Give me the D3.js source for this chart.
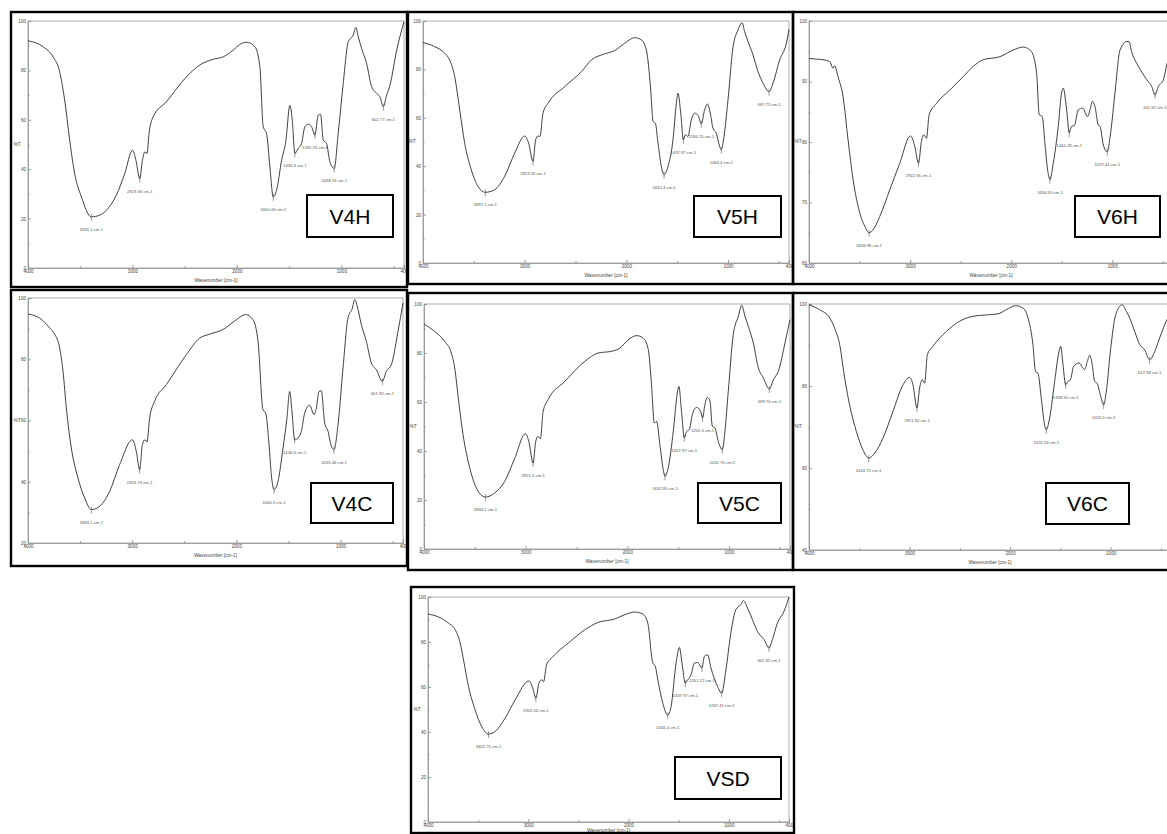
<!DOCTYPE html>
<html>
<head>
<meta charset="utf-8">
<script src="https://cdn.jsdelivr.net/npm/d3@7"></script>
<style>
  html, body { margin: 0; padding: 0; background: #fff; }
  svg { display: block; font-family: "Liberation Sans", Arial, sans-serif; }
</style>
</head>
<body>
<svg id="chart" width="1167" height="834"></svg>
<script>
// ---------------- DATA (wavenumber cm-1, %T) ----------------
const spectrumV4H = [[4000,92.0],[3856,89.6],[3760,85.5],[3697,79.5],[3649,68],[3601,51.8],[3553,38.2],[3489,28.8],[3393,20.7],[3313,21.4],[3249,23.4],[3154,29.5],[3074,38.2],[3000,47.7],[2968,43.9],[2930,36.2],[2904,43.6],[2882,47],[2860,46.4],[2841,54.5],[2802,61.2],[2675,67.3],[2483,77.4],[2355,82.2],[2227,84.5],[2131,85.5],[2036,88.2],[1972,90.5],[1908,91.4],[1828,89.6],[1780,81.5],[1748,57.2],[1732,55.8],[1716,54.5],[1684,40.9],[1652,28.8],[1620,31.5],[1572,43.6],[1530,51.8],[1493,65.9],[1470,59.9],[1445,46.4],[1413,48.4],[1381,50.4],[1349,57.2],[1317,58.2],[1285,57.2],[1253,53.8],[1221,61.9],[1199,62.2],[1173,51.8],[1141,50.4],[1110,43.0],[1068,40.3],[1030,54.5],[982,74.7],[934,91.6],[886,94.3],[860,97.4],[838,93.6],[806,88.9],[758,82.8],[710,73.4],[662,70.7],[630,69.3],[598,65.3],[566,70],[534,74.1],[470,88.2],[400,99.7]];
const peaksV4H = [[3393,20.7,"3391.1 cm-1"],[2930,36.2,"2923.56 cm-1"],[1652,28.8,"1650.66 cm-1"],[1445,46.4,"1436.6 cm-1"],[1253,53.8,"1255.26 cm-1"],[1068,40.3,"1058.16 cm-1"],[598,65.3,"602.77 cm-1"]];

const spectrumV5H = [[4000,91.1],[3885,89.4],[3787,86.7],[3738,83.9],[3688,77.0],[3639,63.3],[3590,49.5],[3525,38.5],[3459,31.6],[3387,29.2],[3295,30.3],[3197,35.8],[3098,45.4],[3000,52.5],[2961,49.5],[2918,42.0],[2892,50.9],[2869,52.5],[2849,52.3],[2820,61.9],[2770,66.0],[2606,72.9],[2442,79.1],[2344,83.9],[2213,86.4],[2115,87.8],[2016,90.8],[1918,93.1],[1852,92.2],[1803,88.0],[1760,71.5],[1737,58.5],[1715,57.8],[1688,49.5],[1656,39.9],[1629,36.5],[1590,39.9],[1541,50.9],[1508,66.0],[1492,70.2],[1465,61.9],[1439,50.9],[1420,53.0],[1394,52.3],[1361,59.1],[1328,61.9],[1295,61.2],[1263,57.5],[1230,63.3],[1203,65.7],[1171,61.2],[1148,55.7],[1115,53.6],[1082,48.1],[1066,46.8],[1039,52.3],[1000,67.4],[950,89.4],[901,96.3],[862,99.3],[836,95.6],[803,91.5],[754,86.0],[705,79.1],[655,74.3],[596,70.8],[557,74.3],[492,83.9],[426,90.8],[400,96.6]];
const peaksV5H = [[3387,29.2,"3391.1 cm-1"],[2918,42.0,"2923.56 cm-1"],[1629,36.5,"1632.4 cm-1"],[1439,50.9,"1437.97 cm-1"],[1263,57.5,"1260.25 cm-1"],[1066,46.8,"1065.4 cm-1"],[596,70.8,"597.73 cm-1"]];

const spectrumV6H = [[4000,93.8],[3927,93.7],[3861,93.6],[3795,93.3],[3762,92.2],[3746,92.6],[3713,90.8],[3663,87.5],[3614,80.4],[3564,73.8],[3498,68.3],[3449,66.1],[3406,65.0],[3366,65.5],[3300,67.7],[3201,72.1],[3102,76.5],[2997,81.0],[2954,79.3],[2917,76.5],[2888,80.1],[2865,81.2],[2838,80.6],[2812,84.5],[2739,86.4],[2607,88.6],[2475,90.8],[2376,92.5],[2277,93.6],[2112,94.1],[1980,95.2],[1881,95.7],[1799,94.9],[1749,91.4],[1723,84.5],[1693,84.2],[1667,79.8],[1640,75.4],[1617,73.8],[1584,76.5],[1535,82.6],[1502,88.1],[1485,88.9],[1452,85.3],[1426,81.5],[1403,82.6],[1376,82.7],[1337,85.3],[1294,85.6],[1244,84.2],[1221,85.3],[1198,86.7],[1172,85.9],[1139,82.8],[1122,82.6],[1089,79.5],[1050,78.4],[1017,81.5],[974,88.1],[924,95.2],[858,96.6],[835,96.6],[809,94.9],[759,93.0],[710,91.6],[660,90.3],[611,89.2],[578,87.8],[545,89.2],[495,90.3],[462,92.7],[430,94.5]];
const peaksV6H = [[3406,65.0,"3409.96 cm-1"],[2917,76.5,"2922.56 cm-1"],[1617,73.8,"1630.53 cm-1"],[1426,81.5,"1440.28 cm-1"],[1050,78.4,"1037.41 cm-1"],[578,87.8,"611.92 cm-1"]];

const spectrumV4C = [[4000,94.8],[3856,92.6],[3792,90.2],[3744,88.2],[3696,83.7],[3664,76.1],[3632,64.1],[3584,51.0],[3520,41.2],[3456,34.7],[3392,30.9],[3312,32.0],[3216,36.9],[3120,45.6],[2998,53.7],[2960,49.9],[2928,43.9],[2902,52.1],[2877,53.7],[2858,53.0],[2832,60.8],[2784,66.3],[2672,71.7],[2480,81.5],[2352,86.9],[2256,88.2],[2128,89.7],[2000,92.9],[1910,94.6],[1840,92.9],[1792,85.9],[1744,63.5],[1718,62.4],[1686,52.1],[1664,42.3],[1638,37.4],[1600,40.1],[1552,51.0],[1514,60.8],[1488,69.5],[1466,63.0],[1440,53.7],[1408,54.3],[1376,56.5],[1344,62.4],[1296,65.0],[1254,61.9],[1232,64.1],[1206,69.5],[1184,69.7],[1152,59.2],[1120,56.5],[1088,51.6],[1062,50.5],[1024,58.6],[976,77.1],[928,93.5],[886,96.7],[864,99.5],[832,96.2],[800,91.3],[752,85.9],[704,78.8],[656,76.6],[598,72.8],[560,76.1],[512,78.2],[448,89.1],[400,98.4]];
const peaksV4C = [[3392,30.9,"3394.1 cm-1"],[2928,43.9,"2923.76 cm-1"],[1638,37.4,"1630.3 cm-1"],[1440,53.7,"1436.6 cm-1"],[1062,50.5,"1055.46 cm-1"],[598,72.8,"601.92 cm-1"]];

const spectrumV5C = [[4000,91.8],[3895,88.8],[3797,84.8],[3731,80.0],[3698,73.9],[3659,60.3],[3616,46.7],[3550,33.1],[3485,24.9],[3396,21.2],[3304,22.9],[3206,27.6],[3107,37.1],[3002,47.1],[2969,43.9],[2927,35.1],[2901,43.9],[2878,46.0],[2855,45.0],[2828,56.2],[2779,61.0],[2615,68.4],[2418,76.6],[2287,80.0],[2155,80.7],[2073,82.0],[1991,85.4],[1909,87.1],[1844,86.1],[1794,81.4],[1762,67.1],[1735,51.4],[1712,52.1],[1680,42.6],[1647,32.4],[1630,29.7],[1598,33.1],[1548,48.0],[1506,64.4],[1493,66.4],[1467,56.2],[1440,45.3],[1417,48.0],[1391,48.7],[1361,54.8],[1319,57.8],[1279,56.2],[1260,53.5],[1237,58.9],[1214,61.9],[1187,60.3],[1164,50.1],[1138,49.4],[1105,43.9],[1066,40.5],[1040,48.0],[1007,64.4],[958,87.5],[908,95.0],[875,99.5],[843,95.0],[810,90.9],[761,84.1],[711,73.9],[662,69.8],[603,65.3],[564,69.1],[515,72.5],[449,84.1],[400,93.6]];
const peaksV5C = [[3396,21.2,"3394.1 cm-1"],[2927,35.1,"2921.5 cm-1"],[1630,29.7,"1632.95 cm-1"],[1440,45.3,"1437.97 cm-1"],[1260,53.5,"1255.3 cm-1"],[1066,40.5,"1032.76 cm-1"],[603,65.3,"599.76 cm-1"]];

const spectrumV6C = [[4000,99.8],[3894,98.6],[3794,96.6],[3745,94.1],[3695,90.1],[3645,81.9],[3596,75.4],[3529,68.9],[3463,64.4],[3407,62.4],[3347,63.6],[3264,67.3],[3165,73.8],[3065,80.3],[2999,82.1],[2966,80.3],[2926,74.6],[2900,79.5],[2873,81.5],[2850,80.7],[2823,87.6],[2767,89.7],[2634,93.3],[2502,95.8],[2369,97.0],[2203,97.4],[2121,97.6],[2038,98.6],[1945,99.6],[1872,99.0],[1822,96.6],[1773,90.1],[1746,83.4],[1723,83.1],[1690,77.0],[1657,70.5],[1640,69.3],[1607,72.2],[1557,81.1],[1514,88.4],[1497,89.7],[1474,85.2],[1448,80.3],[1425,81.1],[1401,81.5],[1368,84.8],[1315,85.6],[1259,84.0],[1232,86.0],[1209,87.5],[1183,85.2],[1159,81.1],[1136,80.7],[1103,77.9],[1070,75.4],[1043,78.7],[1003,88.4],[950,97.4],[884,99.8],[844,98.2],[811,96.6],[761,93.3],[711,90.1],[662,88.8],[612,86.4],[562,88.4],[513,91.7],[447,95.8],[420,97.0]];
const peaksV6C = [[3407,62.4,"3424.71 cm-1"],[2926,74.6,"2921.50 cm-1"],[1640,69.3,"1632.53 cm-1"],[1448,80.3,"1458.56 cm-1"],[1070,75.4,"1052.5 cm-1"],[612,86.4,"612.94 cm-1"]];

const spectrumVSD = [[4000,92.4],[3894,91.1],[3795,88.4],[3728,85.4],[3679,79.5],[3646,72.1],[3596,60.2],[3530,49.8],[3463,42.3],[3397,39.1],[3314,40.9],[3232,46.1],[3132,54.2],[2993,62.7],[2960,60.2],[2924,55.0],[2894,61.7],[2867,63.2],[2847,62.4],[2818,69.8],[2751,73.6],[2602,79.5],[2437,85.4],[2304,88.7],[2139,90.2],[2039,92.1],[1940,93.3],[1857,92.4],[1808,88.4],[1758,70.6],[1735,69.4],[1708,63.2],[1658,52.7],[1609,47.5],[1576,51.3],[1526,70.6],[1493,77.6],[1467,70.6],[1434,61.7],[1410,63.2],[1377,65.4],[1344,70.6],[1311,70.9],[1268,68.4],[1244,73.6],[1211,74.3],[1178,68.4],[1145,63.9],[1112,60.2],[1072,57.2],[1029,67.6],[980,84.0],[930,94.4],[880,96.6],[854,98.4],[814,95.1],[764,89.9],[715,84.7],[648,81.0],[599,77.3],[566,81.0],[516,88.4],[450,93.6],[400,100]];
const peaksVSD = [[3397,39.1,"3402.76 cm-1"],[2924,55.0,"2923.56 cm-1"],[1609,47.5,"1634.4 cm-1"],[1434,61.7,"1437.97 cm-1"],[1268,68.4,"1261.12 cm-1"],[1072,57.2,"1057.41 cm-1"],[599,77.3,"601.92 cm-1"]];

const xTickLabels = [4000, 3000, 2000, 1000, 400];
const xMinorTicks = [3500, 2500, 1500, 500];
const yTicks0 = [0, 20, 40, 60, 80, 100];
const yTicks20 = [20, 40, 60, 80, 100];
const yTicks40 = [40, 60, 80, 100];
const yTicks60 = [60, 70, 80, 90, 100];
const sampleNames = ["V4H", "V5H", "V6H", "V4C", "V5C", "V6C", "VSD"];
const yAxisTitle = "%T";
const xAxisTitle = "Wavenumber [cm-1]";

// ---------------- LAYOUT ----------------
const W = 1167, H = 834;
const panels = [
  {name: sampleNames[0], data: spectrumV4H, peaks: peaksV4H, yTicks: yTicks0, ymin: 0,
   frame: [11, 12, 407, 287], plot: [28, 21, 404, 268], box: [307, 195, 393, 237]},
  {name: sampleNames[1], data: spectrumV5H, peaks: peaksV5H, yTicks: yTicks0, ymin: 0,
   frame: [408, 12, 793, 284], plot: [423, 21, 789, 263], box: [694, 196, 781, 237]},
  {name: sampleNames[2], data: spectrumV6H, peaks: peaksV6H, yTicks: yTicks60, ymin: 60,
   frame: [793, 12, 1175, 284], plot: [809, 21, 1173, 263], box: [1075, 196, 1160, 237]},
  {name: sampleNames[3], data: spectrumV4C, peaks: peaksV4C, yTicks: yTicks20, ymin: 20,
   frame: [11, 290, 407, 566], plot: [28, 298, 403, 543], box: [311, 483, 393, 523]},
  {name: sampleNames[4], data: spectrumV5C, peaks: peaksV5C, yTicks: yTicks0, ymin: 0,
   frame: [408, 293, 793, 570], plot: [424, 304, 790, 549], box: [698, 483, 781, 523]},
  {name: sampleNames[5], data: spectrumV6C, peaks: peaksV6C, yTicks: yTicks40, ymin: 40,
   frame: [793, 293, 1175, 570], plot: [809, 304, 1171, 550], box: [1046, 483, 1129, 524]},
  {name: sampleNames[6], data: spectrumVSD, peaks: peaksVSD, yTicks: yTicks0, ymin: 0,
   frame: [411, 587, 794, 833], plot: [428, 597, 789, 822], box: [675, 757, 781, 799]}
];

const svg = d3.select("#chart");
svg.append("rect").attr("width", W).attr("height", H).attr("fill", "#fff");

panels.forEach(p => {
  const [fx0, fy0, fx1, fy1] = p.frame;
  const [px0, py0, px1, py1] = p.plot;
  const g = svg.append("g");

  const x = d3.scaleLinear().domain([4000, 400]).range([px0, px1]);
  const y = d3.scaleLinear().domain([p.ymin, 100]).range([py1, py0]);

  // plot box
  g.append("rect").attr("x", px0).attr("y", py0).attr("width", px1 - px0).attr("height", py1 - py0)
    .attr("fill", "none").attr("stroke", "#9a9a9a").attr("stroke-width", 0.8);

  // y axis
  const step = p.yTicks[1] - p.yTicks[0];
  const yMinor = p.yTicks.slice(0, -1).map(v => v + step / 2);
  const yAx = g.append("g").attr("transform", `translate(${px0},0)`)
    .call(d3.axisLeft(y).tickValues(p.yTicks).tickSize(-3).tickPadding(2).tickFormat(d3.format("d")));
  const yAxMinor = g.append("g").attr("transform", `translate(${px0},0)`)
    .call(d3.axisLeft(y).tickValues(yMinor).tickSize(-1.5).tickFormat(""));

  // x axis (labels that would fall outside the picture are left blank, as in the reference)
  const xAx = g.append("g").attr("transform", `translate(0,${py1})`)
    .call(d3.axisBottom(x).tickValues(xTickLabels).tickSize(-3).tickPadding(2)
      .tickFormat(d => x(d) > W - 8 ? "" : d3.format("d")(d)));
  const xAxMinor = g.append("g").attr("transform", `translate(0,${py1})`)
    .call(d3.axisBottom(x).tickValues(xMinorTicks).tickSize(-2).tickFormat(""));

  [yAx, yAxMinor, xAx, xAxMinor].forEach(a => {
    a.select(".domain").attr("stroke", "#9a9a9a").attr("stroke-width", 0.8);
    a.selectAll(".tick line").attr("stroke", "#777").attr("stroke-width", 0.7);
    a.selectAll(".tick text").attr("font-size", 4.6).attr("fill", "#444")
      .attr("font-family", "'Liberation Sans Narrow','Liberation Sans',Arial,sans-serif");
  });

  // axis titles
  g.append("text").attr("x", px0 - 11).attr("y", (py0 + py1) / 2 + 1)
    .attr("font-size", 4.8).attr("fill", "#444").attr("text-anchor", "middle").text(yAxisTitle);
  g.append("text").attr("x", (px0 + px1) / 2).attr("y", Math.min(py1 + 14, H - 2))
    .attr("font-size", 4.8).attr("fill", "#444").attr("text-anchor", "middle").text(xAxisTitle);

  // spectrum
  const line = d3.line().x(d => x(d[0])).y(d => y(d[1])).curve(d3.curveMonotoneX);
  g.append("path").datum(p.data).attr("d", line)
    .attr("fill", "none").attr("stroke", "#2b2b2b").attr("stroke-width", 0.9)
    .attr("stroke-linejoin", "round");

  // peak markers and labels
  p.peaks.forEach(([wn, t, lab]) => {
    g.append("line").attr("x1", x(wn)).attr("x2", x(wn))
      .attr("y1", y(t) - 3).attr("y2", y(t) + 4)
      .attr("stroke", "#555").attr("stroke-width", 0.6);
    g.append("text").attr("x", x(wn)).attr("y", y(t) + 14)
      .attr("font-size", 4.2).attr("fill", "#555").attr("text-anchor", "middle").text(lab);
  });

  // sample label box
  const [bx0, by0, bx1, by1] = p.box;
  g.append("rect").attr("x", bx0).attr("y", by0).attr("width", bx1 - bx0).attr("height", by1 - by0)
    .attr("fill", "#fff").attr("stroke", "#000").attr("stroke-width", 2);
  g.append("text").attr("x", (bx0 + bx1) / 2).attr("y", (by0 + by1) / 2 + 7.5)
    .attr("text-anchor", "middle").attr("font-size", 21).attr("fill", "#000")
    .attr("font-family", "'Liberation Sans', Arial, sans-serif").text(p.name);

  // outer frame
  g.append("rect").attr("x", fx0).attr("y", fy0).attr("width", fx1 - fx0).attr("height", fy1 - fy0)
    .attr("fill", "none").attr("stroke", "#000").attr("stroke-width", 2.4);
});
</script>
</body>
</html>
